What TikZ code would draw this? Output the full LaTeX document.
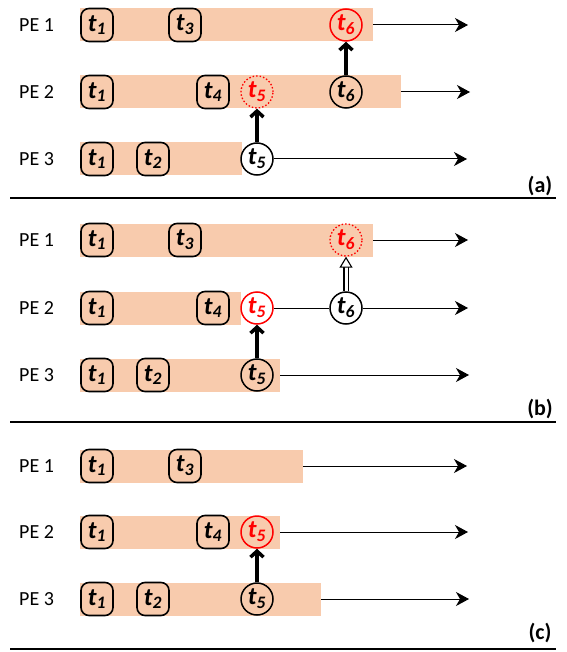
\documentclass[tikz,border=0pt]{standalone}
\usepackage{fontspec}
\setmainfont{Carlito}
\usetikzlibrary{arrows.meta}
\definecolor{peach}{HTML}{F8CBAD}
\begin{document}
\begin{tikzpicture}[x=1pt,y=-1pt,
  pe/.style={anchor=west,font=\fontsize{20}{20}\selectfont,inner sep=0},
  bar/.style={rectangle,fill=peach,inner sep=0,minimum height=33pt,anchor=west},
  tbox/.style={draw,rounded corners=8pt,line width=1.6pt,minimum width=32pt,minimum height=33pt,inner sep=0,font=\fontsize{25}{25}\selectfont\bfseries\itshape},
  tcirc/.style={circle,draw,line width=1.5pt,minimum size=32pt,inner sep=0,font=\fontsize{25}{25}\selectfont\bfseries\itshape},
  rdot/.style={draw=red,text=red,dotted,line width=1.3pt},
  rsol/.style={draw=red,text=red},
  tline/.style={line width=1pt,-{Stealth[length=13pt,width=14pt,inset=4pt]}},
  plain/.style={line width=1pt},
  up/.style={line width=3.5pt,-{Straight Barb[length=6pt,width=13pt]}},
  hollow/.style={double,double distance=3pt,line width=1.1pt,-{Triangle[open,fill=white,length=11pt,width=13pt]}},
  lab/.style={font=\fontsize{22}{22}\selectfont\bfseries,inner sep=0},
  sep/.style={line width=2pt}]
\useasboundingbox (0,0) rectangle (566,652);

% ---------- panel (a) ----------
\node[pe] (a1l) at (19,25) {PE 1};
\node[bar,minimum width=293pt] (a1b) at (80,25) {};
\node[tbox] (a1t1) at (97,25) {t\textsubscript{1}};
\node[tbox] (a1t3) at (185,25) {t\textsubscript{3}};
\node[tcirc,rsol] (a1t6) at (346,25) {t\textsubscript{6}};
\coordinate (a1e) at (468,25);
\draw[tline] (a1b.east) -- (a1e);

\node[pe] (a2l) at (19,92) {PE 2};
\node[bar,minimum width=321pt] (a2b) at (80,92) {};
\node[tbox] (a2t1) at (97,92) {t\textsubscript{1}};
\node[tbox] (a2t4) at (213,92) {t\textsubscript{4}};
\node[tcirc,rdot] (a2t5) at (257,92) {t\textsubscript{5}};
\node[tcirc] (a2t6) at (346,92) {t\textsubscript{6}};
\coordinate (a2e) at (470,92);
\draw[tline] (a2b.east) -- (a2e);

\node[pe] (a3l) at (19,159) {PE 3};
\node[bar,minimum width=162pt] (a3b) at (80,159) {};
\node[tbox] (a3t1) at (97,159) {t\textsubscript{1}};
\node[tbox] (a3t2) at (153,159) {t\textsubscript{2}};
\node[tcirc,fill=white] (a3t5) at (257,159) {t\textsubscript{5}};
\coordinate (a3e) at (467,159);
\draw[tline] (a3t5.east) -- (a3e);

\draw[up] (a3t5.north) -- (a2t5.south);
\draw[up] (a2t6.north) -- (a1t6.south);

\node[lab] (la) at (540,186) {(a)};
\coordinate (s1a) at (10,198);
\coordinate (s1b) at (556,198);
\draw[sep] (s1a) -- (s1b);

% ---------- panel (b) ----------
\node[pe] (b1l) at (19,240) {PE 1};
\node[bar,minimum width=293pt] (b1b) at (80,240) {};
\node[tbox] (b1t1) at (97,240) {t\textsubscript{1}};
\node[tbox] (b1t3) at (185,240) {t\textsubscript{3}};
\node[tcirc,rdot] (b1t6) at (346,240) {t\textsubscript{6}};
\coordinate (b1e) at (468,240);
\draw[tline] (b1b.east) -- (b1e);

\node[pe] (b2l) at (19,308) {PE 2};
\node[bar,minimum width=161pt] (b2b) at (80,308) {};
\node[tbox] (b2t1) at (97,308) {t\textsubscript{1}};
\node[tbox] (b2t4) at (213,308) {t\textsubscript{4}};
\node[tcirc,rsol,fill=white] (b2t5) at (257,308) {t\textsubscript{5}};
\node[tcirc,fill=white] (b2t6) at (346,308) {t\textsubscript{6}};
\coordinate (b2e) at (468,308);
\draw[plain] (b2t5.east) -- (b2t6.west);
\draw[tline] (b2t6.east) -- (b2e);

\node[pe] (b3l) at (19,375) {PE 3};
\node[bar,minimum width=200pt] (b3b) at (80,375) {};
\node[tbox] (b3t1) at (97,375) {t\textsubscript{1}};
\node[tbox] (b3t2) at (153,375) {t\textsubscript{2}};
\node[tcirc] (b3t5) at (257,375) {t\textsubscript{5}};
\coordinate (b3e) at (469,375);
\draw[tline] (b3b.east) -- (b3e);

\draw[up] (b3t5.north) -- (b2t5.south);
\draw[hollow] (b2t6.north) -- (b1t6.south);

\node[lab] (lb) at (540,409) {(b)};
\coordinate (s2a) at (10,422);
\coordinate (s2b) at (556,422);
\draw[sep] (s2a) -- (s2b);

% ---------- panel (c) ----------
\node[pe] (c1l) at (19,466) {PE 1};
\node[bar,minimum width=223pt] (c1b) at (80,466) {};
\node[tbox] (c1t1) at (97,466) {t\textsubscript{1}};
\node[tbox] (c1t3) at (185,466) {t\textsubscript{3}};
\coordinate (c1e) at (467,466);
\draw[tline] (c1b.east) -- (c1e);

\node[pe] (c2l) at (19,532) {PE 2};
\node[bar,minimum width=200pt] (c2b) at (80,532) {};
\node[tbox] (c2t1) at (97,532) {t\textsubscript{1}};
\node[tbox] (c2t4) at (213,532) {t\textsubscript{4}};
\node[tcirc,rsol] (c2t5) at (257,532) {t\textsubscript{5}};
\coordinate (c2e) at (468,532);
\draw[tline] (c2b.east) -- (c2e);

\node[pe] (c3l) at (19,599) {PE 3};
\node[bar,minimum width=241pt] (c3b) at (80,599) {};
\node[tbox] (c3t1) at (97,599) {t\textsubscript{1}};
\node[tbox] (c3t2) at (153,599) {t\textsubscript{2}};
\node[tcirc] (c3t5) at (257,599) {t\textsubscript{5}};
\coordinate (c3e) at (469,599);
\draw[tline] (c3b.east) -- (c3e);

\draw[up] (c3t5.north) -- (c2t5.south);

\node[lab] (lc) at (540,633) {(c)};
\coordinate (s3a) at (10,649);
\coordinate (s3b) at (556,649);
\draw[sep] (s3a) -- (s3b);
\end{tikzpicture}
\end{document}
